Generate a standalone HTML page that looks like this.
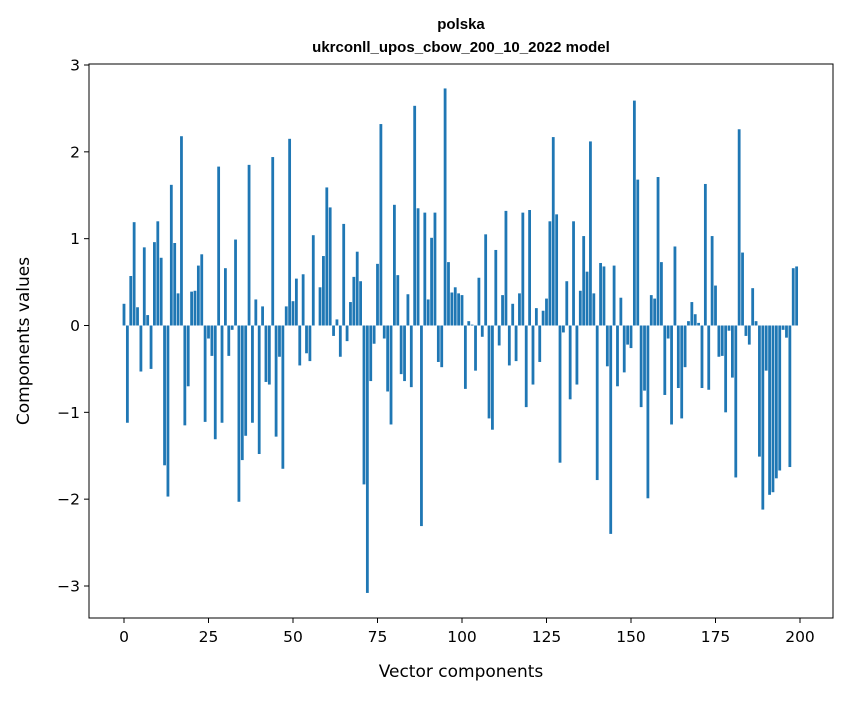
<!DOCTYPE html>
<html><head><meta charset="utf-8"><style>
body{margin:0;background:#fff;font-family:"Liberation Sans","DejaVu Sans",sans-serif;}
svg text{font-family:"DejaVu Sans","Liberation Sans",sans-serif;}
</style></head><body>
<svg id="chart" width="847" height="696" xmlns="http://www.w3.org/2000/svg">
<text x="461" y="29" text-anchor="middle" font-size="15" font-weight="bold" style="font-family:'Liberation Sans',sans-serif">polska</text>
<text x="461" y="52" text-anchor="middle" font-size="15" font-weight="bold" style="font-family:'Liberation Sans',sans-serif">ukrconll_upos_cbow_200_10_2022 model</text>
<g id="bars"></g>
<g id="axes"></g>
<rect x="89" y="64" width="744" height="554" fill="none" stroke="#000" stroke-width="1"/>
<text x="461" y="677" text-anchor="middle" font-size="17">Vector components</text>
<text transform="translate(29,341) rotate(-90)" text-anchor="middle" font-size="17">Components values</text>
</svg>
<script>
const values=[0.25,-1.12,0.57,1.19,0.21,-0.53,0.90,0.12,-0.50,0.96,1.20,0.78,-1.61,-1.97,1.62,0.95,0.37,2.18,-1.15,-0.70,
0.39,0.40,0.69,0.82,-1.11,-0.15,-0.35,-1.31,1.83,-1.12,0.66,-0.35,-0.05,0.99,-2.03,-1.55,-1.27,1.85,-1.12,0.30,
-1.48,0.22,-0.65,-0.68,1.94,-1.28,-0.36,-1.65,0.22,2.15,0.28,0.54,-0.46,0.59,-0.32,-0.41,1.04,0.0,0.44,0.80,
1.59,1.36,-0.12,0.07,-0.36,1.17,-0.18,0.27,0.56,0.85,0.51,-1.83,-3.08,-0.64,-0.21,0.71,2.32,-0.15,-0.76,-1.14,
1.39,0.58,-0.56,-0.64,0.36,-0.71,2.53,1.35,-2.31,1.30,0.30,1.01,1.30,-0.42,-0.48,2.73,0.73,0.38,0.44,0.37,
0.35,-0.73,0.05,0.01,-0.52,0.55,-0.13,1.05,-1.07,-1.20,0.87,-0.23,0.35,1.32,-0.46,0.25,-0.41,0.37,1.30,-0.94,
1.33,-0.68,0.20,-0.42,0.17,0.31,1.20,2.17,1.28,-1.58,-0.08,0.51,-0.85,1.20,-0.68,0.40,1.03,0.62,2.12,0.37,
-1.78,0.72,0.68,-0.47,-2.40,0.69,-0.70,0.32,-0.54,-0.22,-0.26,2.59,1.68,-0.94,-0.75,-1.99,0.35,0.31,1.71,0.73,
-0.80,-0.15,-1.14,0.91,-0.72,-1.07,-0.48,0.05,0.27,0.13,0.03,-0.72,1.63,-0.74,1.03,0.46,-0.36,-0.35,-1.00,-0.06,
-0.60,-1.75,2.26,0.84,-0.12,-0.22,0.43,0.05,-1.51,-2.12,-0.52,-1.95,-1.92,-1.76,-1.67,-0.05,-0.14,-1.63,0.66,0.68];
const xTicks=[0,25,50,75,100,125,150,175,200];
const yTicks=[-3,-2,-1,0,1,2,3];
const yTickLabels=["\u22123","\u22122","\u22121","0","1","2","3"];
const NS="http://www.w3.org/2000/svg";
function xs(v){return 124+v*3.38;}
function ys(v){return 325.5-v*86.83;}
const bars=document.getElementById('bars');
values.forEach((v,i)=>{
 const r=document.createElementNS(NS,'rect');
 
 
 const y0=ys(0),y1=ys(v);
 r.setAttribute('x',xs(i)-1.4);r.setAttribute('width',2.8);
 r.setAttribute('y',Math.min(y0,y1));r.setAttribute('height',Math.abs(y1-y0));
 r.setAttribute('fill','#1f77b4');bars.appendChild(r);
});
const axes=document.getElementById('axes');
xTicks.forEach(t=>{
 const l=document.createElementNS(NS,'line');
 
 
 l.setAttribute('x1',xs(t));l.setAttribute('x2',xs(t));l.setAttribute('y1',618);l.setAttribute('y2',623);l.setAttribute('stroke','#000');
 axes.appendChild(l);
 const tx=document.createElementNS(NS,'text');
 
 
 tx.setAttribute('x',xs(t));tx.setAttribute('y',642);tx.setAttribute('text-anchor','middle');tx.setAttribute('font-size','15.5');
 tx.textContent=t;axes.appendChild(tx);
});
yTicks.forEach((t,k)=>{
 const l=document.createElementNS(NS,'line');
 
 
 l.setAttribute('x1',84);l.setAttribute('x2',89);l.setAttribute('y1',ys(t));l.setAttribute('y2',ys(t));l.setAttribute('stroke','#000');
 axes.appendChild(l);
 const tx=document.createElementNS(NS,'text');
 
 
 tx.setAttribute('x',80);tx.setAttribute('y',ys(t)+5.5);tx.setAttribute('text-anchor','end');tx.setAttribute('font-size','15.5');
 tx.textContent=yTickLabels[k];axes.appendChild(tx);
});
</script>
</body></html>
